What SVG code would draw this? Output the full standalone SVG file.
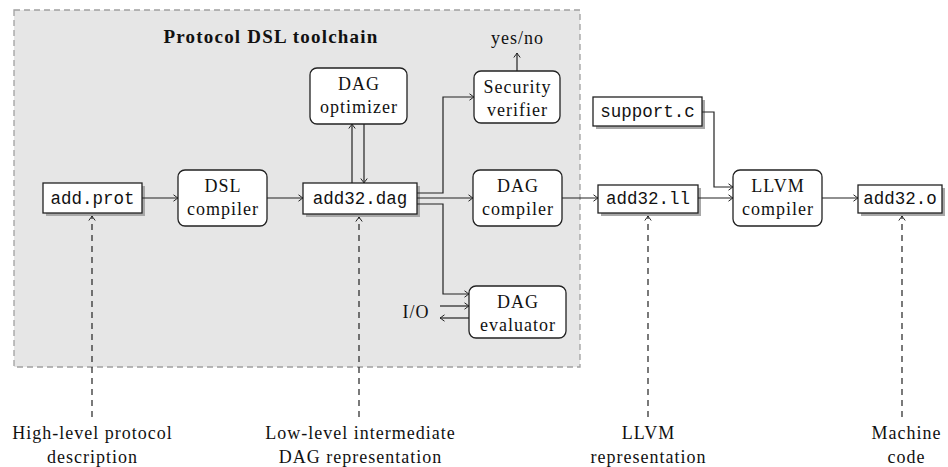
<svg xmlns="http://www.w3.org/2000/svg" width="948" height="467" viewBox="0 0 948 467">
  <defs>
    <marker id="arr" viewBox="-6 -4 8 8" markerWidth="8" markerHeight="8" refX="0" refY="0" orient="auto" markerUnits="userSpaceOnUse">
      <path d="M-4.5,-3.2 Q-1,-0.6 0,0 Q-1,0.6 -4.5,3.2" fill="none" stroke="#222" stroke-width="1"/>
    </marker>
  </defs>
  <style>
    .frame { fill: #e6e6e6; stroke: #a0a0a0; stroke-width: 1.3; stroke-dasharray: 6 4; }
    .file { fill: #ffffff; stroke: #222; stroke-width: 1.3; }
    .shadow { fill: #a8a8a8; }
    .proc { fill: #ffffff; stroke: #222; stroke-width: 1.3; }
    .mono { font-family: "Liberation Mono", "DejaVu Sans Mono", monospace; font-size: 17.5px; fill: #111; text-anchor: middle; }
    .serif { font-family: "Liberation Serif", "DejaVu Serif", serif; font-size: 18px; letter-spacing: 1px; fill: #111; text-anchor: middle; }
    .title { font-family: "Liberation Serif", "DejaVu Serif", serif; font-size: 19px; letter-spacing: 1.2px; font-weight: bold; fill: #111; text-anchor: middle; }
    .edge { fill: none; stroke: #222; stroke-width: 1.2; marker-end: url(#arr); }
    .note { fill: none; stroke: #222; stroke-width: 1.2; stroke-dasharray: 6 5; marker-end: url(#arr); }
  </style>

  <!-- toolchain frame -->
  <g id="toolchain">
    <rect class="frame" x="14" y="10" width="566" height="357"/>
    <text class="title" x="271" y="43">Protocol DSL toolchain</text>
  </g>

  <!-- file nodes -->
  <g id="add-prot">
    <rect class="shadow" x="46" y="186" width="99" height="30"/>
    <rect class="file" x="43" y="183" width="99" height="30"/>
    <text class="mono" x="92.5" y="204">add.prot</text>
  </g>
  <g id="add32-dag">
    <rect class="shadow" x="306" y="186" width="114" height="31"/>
    <rect class="file" x="303" y="183" width="114" height="31"/>
    <text class="mono" x="360" y="204">add32.dag</text>
  </g>
  <g id="support-c">
    <rect class="shadow" x="596" y="100" width="109" height="29"/>
    <rect class="file" x="593" y="97" width="109" height="29"/>
    <text class="mono" x="647.5" y="117">support.c</text>
  </g>
  <g id="add32-ll">
    <rect class="shadow" x="601" y="188" width="100" height="28"/>
    <rect class="file" x="598" y="185" width="100" height="28"/>
    <text class="mono" x="648" y="204">add32.ll</text>
  </g>
  <g id="add32-o">
    <rect class="shadow" x="861" y="188" width="84" height="28"/>
    <rect class="file" x="858" y="185" width="84" height="28"/>
    <text class="mono" x="900" y="204">add32.o</text>
  </g>

  <!-- processing nodes -->
  <g id="dsl-compiler">
    <rect class="proc" x="178" y="170" width="89" height="56" rx="7"/>
    <text class="serif" x="223" y="192">DSL</text>
    <text class="serif" x="223" y="215">compiler</text>
  </g>
  <g id="dag-optimizer">
    <rect class="proc" x="310" y="68" width="97" height="56" rx="7"/>
    <text class="serif" x="359" y="90">DAG</text>
    <text class="serif" x="359" y="113">optimizer</text>
  </g>
  <g id="security-verifier">
    <rect class="proc" x="474" y="71" width="86" height="52" rx="7"/>
    <text class="serif" x="517.5" y="93">Security</text>
    <text class="serif" x="517.5" y="116">verifier</text>
  </g>
  <g id="dag-compiler">
    <rect class="proc" x="473" y="170" width="89" height="56" rx="7"/>
    <text class="serif" x="518" y="192">DAG</text>
    <text class="serif" x="518" y="215">compiler</text>
  </g>
  <g id="dag-evaluator">
    <rect class="proc" x="469" y="286" width="97" height="52" rx="7"/>
    <text class="serif" x="518" y="308">DAG</text>
    <text class="serif" x="518" y="331">evaluator</text>
  </g>
  <g id="llvm-compiler">
    <rect class="proc" x="733" y="170" width="89" height="56" rx="7"/>
    <text class="serif" x="778" y="192">LLVM</text>
    <text class="serif" x="778" y="215">compiler</text>
  </g>

  <!-- free labels -->
  <g id="labels">
    <text class="serif" x="517.5" y="44">yes/no</text>
    <text class="serif" x="416" y="318">I/O</text>
    <text class="serif" x="92.5" y="439">High-level protocol</text>
    <text class="serif" x="92.5" y="463">description</text>
    <text class="serif" x="360.5" y="439">Low-level intermediate</text>
    <text class="serif" x="360.5" y="463">DAG representation</text>
    <text class="serif" x="648.5" y="439">LLVM</text>
    <text class="serif" x="648.5" y="463">representation</text>
    <text class="serif" x="906.5" y="439">Machine</text>
    <text class="serif" x="906.5" y="463">code</text>
  </g>

  <!-- connectors -->
  <g id="connectors">
    <path class="edge" d="M142,198 H178"/>
    <path class="edge" d="M267,198 H303"/>
    <path class="edge" d="M352,183 V124"/>
    <path class="edge" d="M364,124 V183"/>
    <path class="edge" d="M417,193 H443 V97 H474"/>
    <path class="edge" d="M417,198 H473"/>
    <path class="edge" d="M417,204 H443 V294 H469"/>
    <path class="edge" d="M440,306 H469"/>
    <path class="edge" d="M469,318 H440"/>
    <path class="edge" d="M517,71 V53"/>
    <path class="edge" d="M562,198 H598"/>
    <path class="edge" d="M702,112 H714 V187 H733"/>
    <path class="edge" d="M698,198 H733"/>
    <path class="edge" d="M822,198 H858"/>
    <path class="note" d="M92,417 V216"/>
    <path class="note" d="M359,417 V217"/>
    <path class="note" d="M648,417 V216"/>
    <path class="note" d="M902,417 V216"/>
  </g>
</svg>
